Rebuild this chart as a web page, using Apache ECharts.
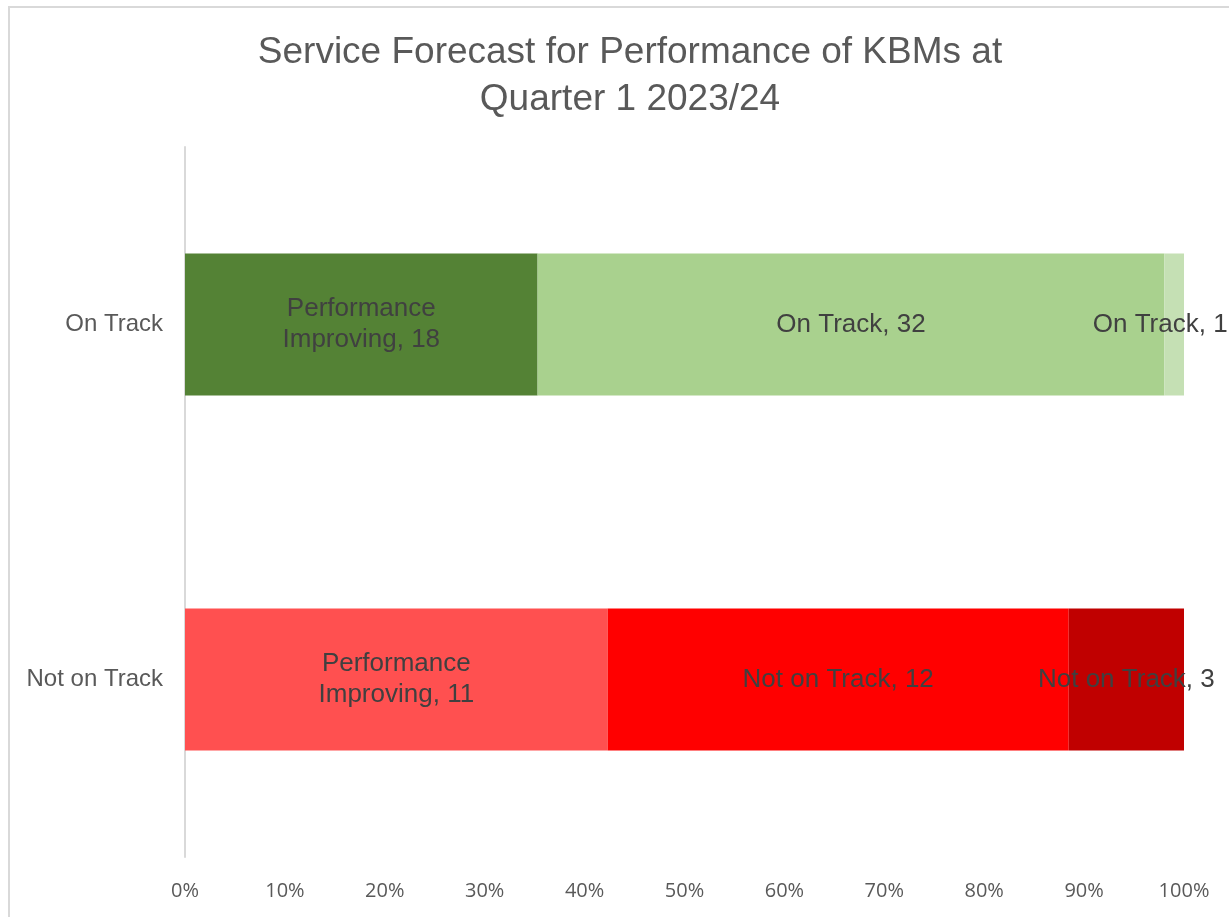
<!DOCTYPE html>
<html>
<head>
<meta charset="utf-8">
<script src="https://cdn.jsdelivr.net/npm/echarts@6/dist/echarts.min.js"></script>
<style>
  html, body { margin: 0; padding: 0; background: #fff; }
  #chart { width: 1229px; height: 917px; }
</style>
</head>
<body>
<div id="chart"></div>
<script>
// rows, top to bottom as in the picture
const categories = ["On Track", "Not on Track"];

// raw counts per segment
const improving = [18, 11];
const steady = [32, 12];
const rest = [1, 3];

const segmentNames = [
  ["Performance\nImproving", "Performance\nImproving"],
  ["On Track", "Not on Track"],
  ["On Track", "Not on Track"]
];

const segmentColors = [
  ["#548235", "#ff5050"],
  ["#a9d18e", "#ff0000"],
  ["#c5e0b4", "#c00000"]
];

const xTicks = [0, 10, 20, 30, 40, 50, 60, 70, 80, 90, 100];

const totals = categories.map((c, i) => improving[i] + steady[i] + rest[i]);
const rows = [improving, steady, rest];

const chart = echarts.init(document.getElementById("chart"));

const series = rows.map((vals, s) => ({
  type: "bar",
  stack: "all",
  barWidth: 142,
  data: vals.map((v, i) => ({
    value: (v / totals[i]) * 100,
    count: v,
    label: s === 2 && i === 0 ? { offset: [-14, 0] } : {},
    itemStyle: { color: segmentColors[s][i] }
  })),
  label: {
    show: true,
    position: "inside",
    color: "#404040",
    fontSize: 26,
    lineHeight: 31,
    fontFamily: "Liberation Sans, Arial, sans-serif",
    formatter: p => segmentNames[s][p.dataIndex] + ", " + p.data.count
  }
}));

chart.setOption({
  animation: false,
  title: {
    text: "Service Forecast for Performance of KBMs at\nQuarter 1 2023/24",
    left: 625,
    top: 24,
    textAlign: "center",
    textStyle: {
      color: "#595959",
      fontSize: 37,
      fontWeight: "normal",
      lineHeight: 47,
      fontFamily: "Liberation Sans, Arial, sans-serif"
    }
  },
  graphic: [{
    type: "rect",
    shape: { x: 9, y: 7, width: 1240, height: 930 },
    style: { fill: "none", stroke: "#d9d9d9", lineWidth: 2 },
    silent: true
  }],
  grid: { left: 185, right: 45, top: 147, bottom: 60 },
  xAxis: {
    type: "value",
    min: 0,
    max: 100,
    interval: 10,
    axisLine: { show: false },
    axisTick: { show: false },
    splitLine: { show: false },
    axisLabel: {
      color: "#595959",
      fontSize: 20,
      margin: 24,
      fontFamily: "Open Sans, Liberation Sans, sans-serif",
      formatter: v => xTicks.includes(v) ? v + "%" : ""
    }
  },
  yAxis: {
    type: "category",
    data: categories,
    inverse: true,
    axisLine: { show: true, lineStyle: { color: "#d9d9d9", width: 2 } },
    axisTick: { show: false },
    axisLabel: {
      color: "#595959",
      fontSize: 24,
      margin: 22,
      fontFamily: "Liberation Sans, Arial, sans-serif"
    }
  },
  series: series
});
</script>
</body>
</html>
